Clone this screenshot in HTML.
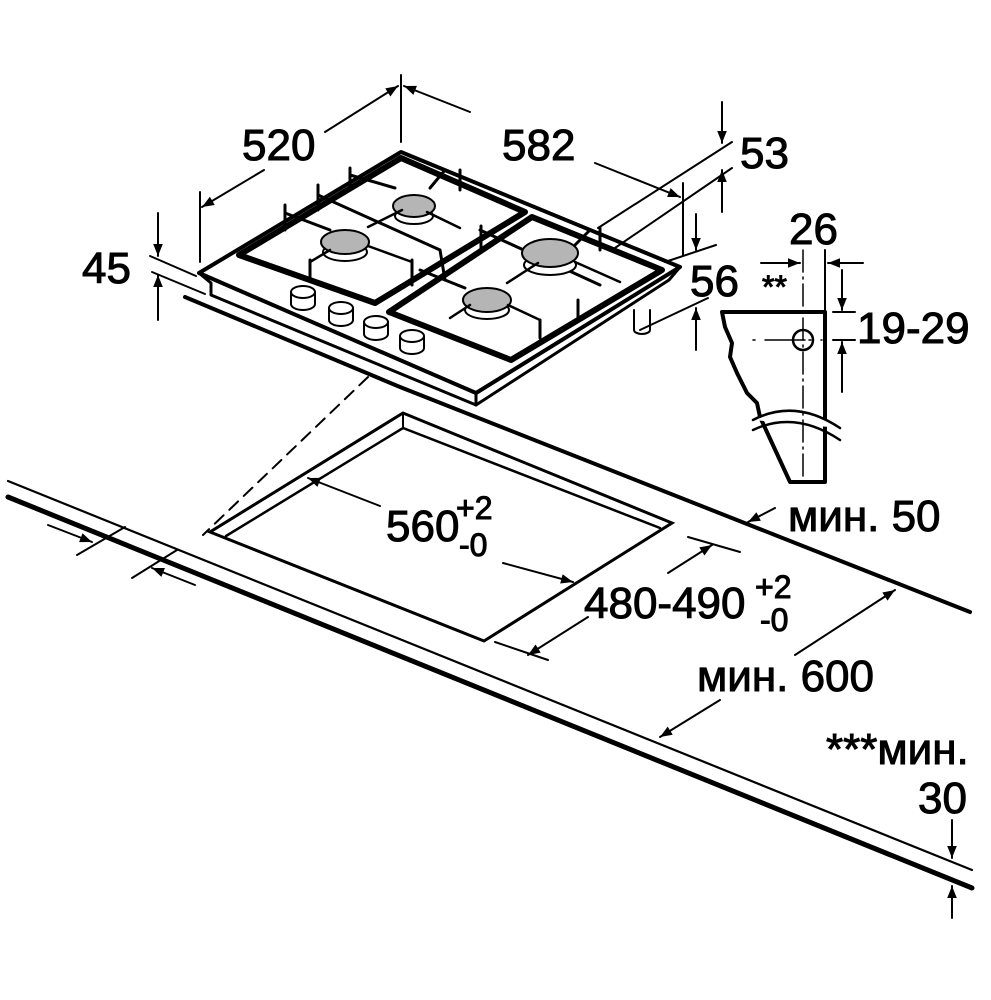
<!DOCTYPE html>
<html><head><meta charset="utf-8"><style>
html,body{margin:0;padding:0;background:#fff}
svg{display:block}
text{font-family:"Liberation Sans",sans-serif;fill:#000}
</style></head><body>
<svg width="991" height="1000" viewBox="0 0 991 1000" xmlns="http://www.w3.org/2000/svg">
<defs>
<marker id="b" viewBox="0 0 10 10" refX="10" refY="5" markerWidth="14" markerHeight="12" markerUnits="userSpaceOnUse" orient="auto"><path d="M0,1 L10,5 L0,9z" fill="#000"/></marker>
</defs>
<g stroke="#000" fill="none" stroke-linecap="round">
<line x1="8" y1="481" x2="972" y2="870" stroke-width="2.2"/>
<line x1="8" y1="497" x2="972" y2="888" stroke-width="5"/>
<polyline points="185,297 400,387 970,612" stroke-width="4"/>
<line x1="368" y1="377" x2="203" y2="535" stroke-width="2" stroke-dasharray="12,8"/>
<line x1="177" y1="550" x2="132" y2="578" stroke-width="2"/>
<line x1="125" y1="527" x2="77" y2="555" stroke-width="2"/>
<line x1="48" y1="525" x2="92" y2="542" stroke-width="2" marker-end="url(#b)"/>
<line x1="195" y1="585" x2="152" y2="568" stroke-width="2" marker-end="url(#b)"/>
<polygon points="403,413 210,532 484,641 672,523" stroke-width="3"/>
<polyline points="226,536 403,428 660,528" stroke-width="2.5"/>
<line x1="403" y1="413" x2="403" y2="428" stroke-width="2"/>
<polygon points="199,273 401,152 680,267 476,393" stroke-width="4" stroke-linejoin="round" fill="#fff"/>
<polyline points="199,273 211,283 211,295 476,405 669,280 680,267" stroke-width="3" stroke-linejoin="round"/>
<line x1="476" y1="393" x2="476" y2="405" stroke-width="3"/>
<polygon points="401,158 525,212 375,303 239,255" stroke-width="6" stroke-linejoin="round"/>
<polygon points="532,217 662,270 511,360 389,312" stroke-width="6" stroke-linejoin="round"/>
<g stroke-width="3">
<line x1="350" y1="175" x2="395" y2="188"/><line x1="445" y1="170" x2="430" y2="188"/>
<line x1="318" y1="195" x2="440" y2="250"/><line x1="285" y1="213" x2="330" y2="230"/>
<line x1="590" y1="230" x2="575" y2="245"/><line x1="480" y1="230" x2="600" y2="285"/>
<line x1="420" y1="270" x2="465" y2="288"/><line x1="440" y1="250" x2="445" y2="280"/>
<line x1="318" y1="185" x2="318" y2="210"/><line x1="285" y1="205" x2="285" y2="230"/>
<line x1="350" y1="168" x2="350" y2="190"/><line x1="460" y1="170" x2="460" y2="190"/>
<line x1="600" y1="228" x2="600" y2="250"/><line x1="481" y1="226" x2="481" y2="248"/>
<line x1="578" y1="300" x2="578" y2="318"/><line x1="540" y1="320" x2="540" y2="338"/>
<line x1="310" y1="260" x2="310" y2="280"/><line x1="412" y1="260" x2="412" y2="285"/>
</g>
<g fill="#b5b5b5" stroke-width="2">
<ellipse cx="414" cy="216" rx="19" ry="8" fill="#fff"/><ellipse cx="414" cy="206" rx="21" ry="11"/>
<ellipse cx="345" cy="252" rx="22" ry="9" fill="#fff"/><ellipse cx="345" cy="242" rx="24" ry="12"/>
<ellipse cx="550" cy="265" rx="26" ry="10" fill="#fff"/><ellipse cx="550" cy="253" rx="28" ry="14"/>
<ellipse cx="487" cy="310" rx="22" ry="9" fill="#fff"/><ellipse cx="487" cy="300" rx="24" ry="12"/>
</g>
<g stroke-width="2.5">
<line x1="368" y1="227" x2="402" y2="210"/><line x1="427" y1="212" x2="460" y2="228"/>
<line x1="310" y1="262" x2="330" y2="250"/><line x1="368" y1="246" x2="412" y2="262"/>
<line x1="507" y1="283" x2="538" y2="263"/><line x1="575" y1="262" x2="620" y2="282"/>
<line x1="450" y1="318" x2="470" y2="305"/><line x1="508" y1="305" x2="540" y2="320"/>
</g>
<g stroke-width="2" fill="#fff">
<path d="M291,292 v12 a12,6 0 0 0 24,0 v-12"/><ellipse cx="303" cy="292" rx="12" ry="6"/>
<path d="M329,308 v12 a12,6 0 0 0 24,0 v-12"/><ellipse cx="341" cy="308" rx="12" ry="6"/>
<path d="M364,322 v12 a12,6 0 0 0 24,0 v-12"/><ellipse cx="376" cy="322" rx="12" ry="6"/>
<path d="M400,336 v12 a12,6 0 0 0 24,0 v-12"/><ellipse cx="412" cy="336" rx="12" ry="6"/>
<path d="M634,310 v20 a8,4 0 0 0 16,0 v-20"/>
</g>
<g stroke-width="2">
<line x1="401" y1="75" x2="401" y2="142"/>
<line x1="200" y1="192" x2="200" y2="262"/>
<line x1="683" y1="183" x2="683" y2="255"/>
<line x1="325" y1="132" x2="398" y2="86" marker-end="url(#b)"/>
<line x1="264" y1="170" x2="202" y2="207" marker-end="url(#b)"/>
<line x1="470" y1="112" x2="404" y2="86" marker-end="url(#b)"/>
<line x1="595" y1="163" x2="680" y2="197" marker-end="url(#b)"/>
<line x1="598" y1="228" x2="732" y2="142"/>
<line x1="612" y1="250" x2="732" y2="168"/>
<line x1="722" y1="102" x2="722" y2="143" marker-end="url(#b)"/>
<line x1="722" y1="212" x2="722" y2="170" marker-end="url(#b)"/>
<line x1="665" y1="262" x2="716" y2="245"/>
<line x1="640" y1="330" x2="708" y2="298"/>
<line x1="696" y1="214" x2="696" y2="250" marker-end="url(#b)"/>
<line x1="696" y1="350" x2="696" y2="308" marker-end="url(#b)"/>
<line x1="150" y1="256" x2="196" y2="276"/>
<line x1="152" y1="272" x2="205" y2="294"/>
<line x1="158" y1="213" x2="158" y2="256" marker-end="url(#b)"/>
<line x1="158" y1="320" x2="158" y2="275" marker-end="url(#b)"/>
<path d="M722,312 L825,312 L825,482 L790,482 L760,417 L757,403 L747,393 L737,373 L730,357 L732,343 L725,327 Z" stroke-width="4" stroke-linejoin="round" fill="#fff"/>
<path d="M753,420 Q795,398 840,428" stroke-width="2.5" fill="#fff"/>
<path d="M753,430 Q795,410 840,440" stroke-width="2.5"/>
<circle cx="803" cy="340" r="10" stroke-width="2.5"/>
<line x1="803" y1="250" x2="803" y2="478" stroke-width="1.5" stroke-dasharray="22,5,2,5"/>
<line x1="753" y1="340" x2="822" y2="340" stroke-width="1.5" stroke-dasharray="2,10,40,4"/>
<line x1="825" y1="250" x2="825" y2="312"/>
<line x1="761" y1="263" x2="800" y2="263" marker-end="url(#b)"/>
<line x1="863" y1="263" x2="828" y2="263" marker-end="url(#b)"/>
<line x1="833" y1="312" x2="855" y2="312"/><line x1="833" y1="340" x2="855" y2="340"/>
<line x1="842" y1="270" x2="842" y2="310" marker-end="url(#b)"/>
<line x1="842" y1="392" x2="842" y2="342" marker-end="url(#b)"/>
<line x1="380" y1="506" x2="308" y2="478" marker-end="url(#b)"/>
<line x1="503" y1="563" x2="573" y2="582" marker-end="url(#b)"/>
<line x1="688" y1="537" x2="740" y2="552"/>
<line x1="495" y1="642" x2="548" y2="660"/>
<line x1="668" y1="573" x2="712" y2="545" marker-end="url(#b)"/>
<line x1="588" y1="617" x2="528" y2="655" marker-end="url(#b)"/>
<line x1="795" y1="655" x2="895" y2="590" marker-end="url(#b)"/>
<line x1="720" y1="700" x2="660" y2="737" marker-end="url(#b)"/>
<line x1="775" y1="508" x2="748" y2="522" marker-end="url(#b)"/>
<line x1="952" y1="820" x2="952" y2="858" marker-end="url(#b)"/>
<line x1="952" y1="918" x2="952" y2="886" marker-end="url(#b)"/>
</g>
<g font-size="44">
<text x="242" y="160">520</text>
<text x="502" y="160">582</text>
<text x="740" y="168">53</text>
<text x="690" y="296">56</text>
<text x="82" y="283">45</text>
<text x="789" y="244">26</text>
<text x="857" y="343">19-29</text>
<text x="386" y="541">560</text>
<text x="584" y="618">480-490</text>
<text x="788" y="531">мин. 50</text>
<text x="697" y="691">мин. 600</text>
<text x="826" y="764">***мин.</text>
<text x="918" y="813">30</text>
</g>
<g font-size="32">
<text x="762" y="298">**</text>
<text x="456" y="519">+2</text>
<text x="459" y="556">-0</text>
<text x="755" y="598">+2</text>
<text x="760" y="631">-0</text>
</g>
</svg>
</body></html>
